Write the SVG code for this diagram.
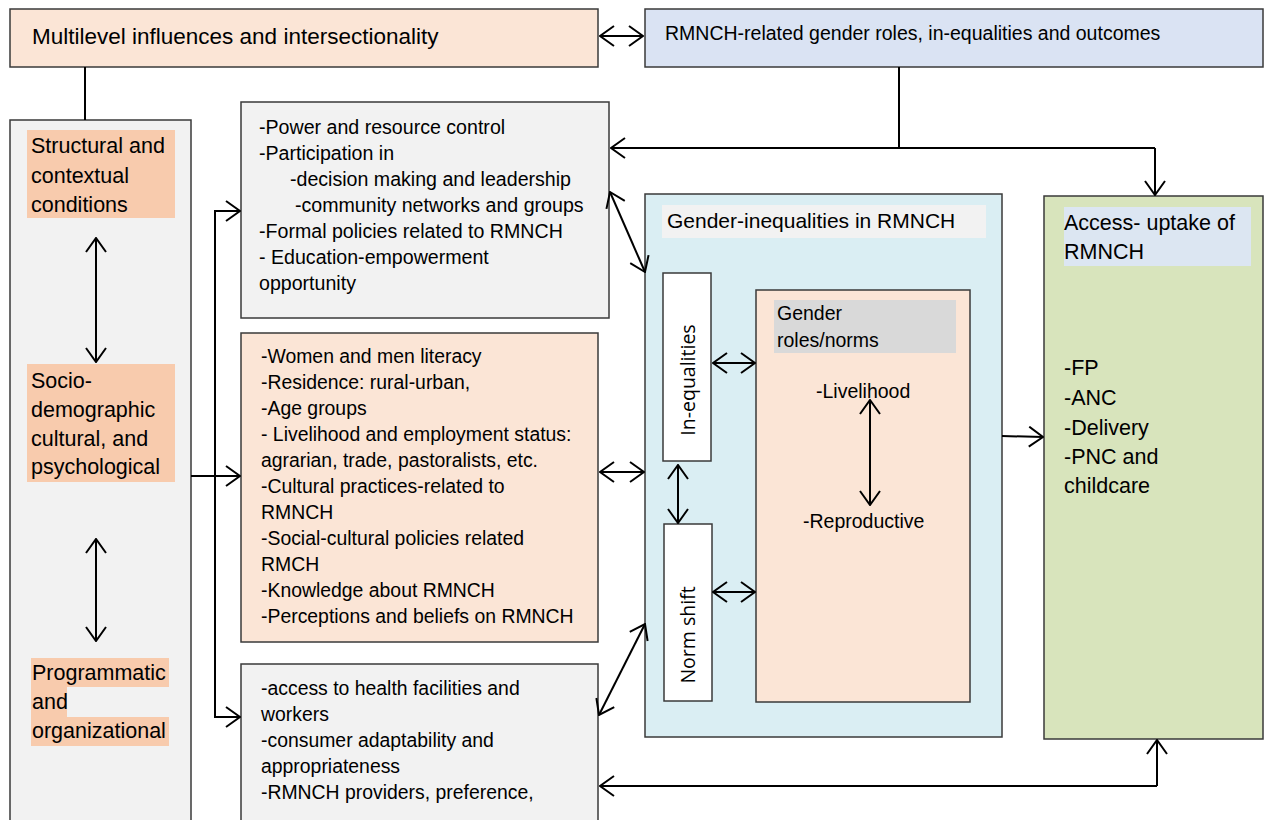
<svg xmlns="http://www.w3.org/2000/svg" width="1265" height="820" viewBox="0 0 1265 820">
<defs>
<marker id="ah" viewBox="0 0 16 22" refX="15" refY="11" markerWidth="16" markerHeight="22" markerUnits="userSpaceOnUse" orient="auto-start-reverse">
<path d="M1,1 L15,11 L1,21" fill="none" stroke="#000" stroke-width="2"/>
</marker>
</defs>
<style>
.box{stroke:#3a3a3a;stroke-width:1.5}
.t{font-family:"Liberation Sans",Arial,sans-serif;fill:#000}
.v{font-family:"Open Sans","DejaVu Sans",sans-serif;fill:#000;font-size:19.5px}
.c{fill:none;stroke:#000;stroke-width:2}
.a{marker-end:url(#ah)}
.d{marker-start:url(#ah);marker-end:url(#ah)}
</style>
<rect width="1265" height="820" fill="#fff"/>

<g id="multilevel">
<rect class="box" x="10" y="9" width="588" height="58" fill="#fbe5d6"/>
<text class="t" x="32" y="44" font-size="22.5">Multilevel influences and intersectionality</text>
</g>

<g id="rmnch-related">
<rect class="box" x="645" y="9" width="618" height="58" fill="#dae3f3"/>
<text class="t" x="665" y="40" font-size="19.5">RMNCH-related gender roles, in-equalities and outcomes</text>
</g>

<g id="levels">
<rect class="box" x="10" y="120" width="181" height="720" fill="#f2f2f2"/>
<rect x="27" y="130" width="148" height="88" fill="#f8cbad"/>
<text class="t" font-size="21.5"><tspan x="31" y="153">Structural and</tspan><tspan x="31" y="183">contextual</tspan><tspan x="31" y="212">conditions</tspan></text>
<rect x="27" y="364" width="148" height="118" fill="#f8cbad"/>
<text class="t" font-size="21.5"><tspan x="31" y="388">Socio-</tspan><tspan x="31" y="417">demographic</tspan><tspan x="31" y="446">cultural, and</tspan><tspan x="31" y="474">psychological</tspan></text>
<rect x="31" y="658" width="138" height="29" fill="#f8cbad"/>
<rect x="31" y="687" width="36" height="30" fill="#f8cbad"/>
<rect x="31" y="717" width="138" height="29" fill="#f8cbad"/>
<text class="t" font-size="21.5"><tspan x="32" y="680">Programmatic</tspan><tspan x="32" y="709">and</tspan><tspan x="32" y="738">organizational</tspan></text>
</g>

<g id="structural-factors">
<rect class="box" x="241" y="102" width="368" height="216" fill="#f2f2f2"/>
<text class="t" font-size="19.6"><tspan x="259" y="134">-Power and resource control</tspan><tspan x="259" y="160">-Participation in</tspan><tspan x="290" y="186">-decision making and leadership</tspan><tspan x="295" y="212">-community networks and groups</tspan><tspan x="259" y="238">-Formal policies related to RMNCH</tspan><tspan x="259" y="264">- Education-empowerment</tspan><tspan x="259" y="290">opportunity</tspan></text>
</g>

<g id="socio-factors">
<rect class="box" x="241" y="333" width="357" height="309" fill="#fbe5d6"/>
<text class="t" font-size="19.4"><tspan x="261" y="363">-Women and men literacy</tspan><tspan x="261" y="389">-Residence: rural-urban,</tspan><tspan x="261" y="415">-Age groups</tspan><tspan x="261" y="441">- Livelihood and employment status:</tspan><tspan x="261" y="467">agrarian, trade, pastoralists, etc.</tspan><tspan x="261" y="493">-Cultural practices-related to</tspan><tspan x="261" y="519">RMNCH</tspan><tspan x="261" y="545">-Social-cultural policies related</tspan><tspan x="261" y="571">RMCH</tspan><tspan x="261" y="597">-Knowledge about RMNCH</tspan><tspan x="261" y="623">-Perceptions and beliefs on RMNCH</tspan></text>
</g>

<g id="programmatic-factors">
<rect class="box" x="241" y="664" width="357" height="180" fill="#f2f2f2"/>
<text class="t" font-size="19.4"><tspan x="261" y="695">-access to health facilities and</tspan><tspan x="261" y="721">workers</tspan><tspan x="261" y="747">-consumer adaptability and</tspan><tspan x="261" y="773">appropriateness</tspan><tspan x="261" y="799">-RMNCH providers, preference,</tspan></text>
</g>

<g id="gender-inequalities">
<rect class="box" x="645" y="194" width="357" height="543" fill="#daeef3"/>
<rect x="662" y="205" width="324" height="33" fill="#f2f2f2"/>
<text class="t" x="667" y="228" font-size="21">Gender-inequalities in RMNCH</text>
</g>

<g id="in-equalities">
<rect class="box" x="663" y="273" width="48" height="188" fill="#fff"/>
<text class="v" transform="translate(695,380) rotate(-90)" text-anchor="middle">In-equalities</text>
</g>

<g id="norm-shift">
<rect class="box" x="664" y="524" width="48" height="177" fill="#fff"/>
<text class="v" transform="translate(695,635) rotate(-90)" text-anchor="middle">Norm shift</text>
</g>

<g id="gender-roles">
<rect class="box" x="756" y="290" width="214" height="412" fill="#fbe5d6"/>
<rect x="774" y="300" width="182" height="53" fill="#d9d9d9"/>
<text class="t" font-size="19.5"><tspan x="777" y="320">Gender</tspan><tspan x="777" y="347">roles/norms</tspan></text>
<text class="t" x="816" y="398" font-size="19.5">-Livelihood</text>
<text class="t" x="803" y="528" font-size="19.5">-Reproductive</text>
</g>

<g id="access-uptake">
<rect class="box" x="1044" y="196" width="219" height="543" fill="#d8e4bc"/>
<rect x="1064" y="207" width="187" height="59" fill="#dce6f2"/>
<text class="t" font-size="21.5"><tspan x="1064" y="230">Access- uptake of</tspan><tspan x="1064" y="259">RMNCH</tspan></text>
<text class="t" font-size="21.5"><tspan x="1064" y="375">-FP</tspan><tspan x="1064" y="405">-ANC</tspan><tspan x="1064" y="435">-Delivery</tspan><tspan x="1064" y="464">-PNC and</tspan><tspan x="1064" y="493">childcare</tspan></text>
</g>

<g id="connectors">
<line class="c d" x1="600" y1="36" x2="643" y2="36"/>
<line class="c" x1="85" y1="67" x2="85" y2="120"/>
<polyline class="c" points="899,67 899,148"/>
<polyline class="c a" points="1155,148 611,148"/>
<polyline class="c a" points="1155,148 1155,195"/>
<line class="c d" x1="96" y1="238" x2="96" y2="362"/>
<line class="c d" x1="96" y1="539" x2="96" y2="641"/>
<line class="c a" x1="191" y1="476" x2="240" y2="476"/>
<polyline class="c a" points="215,476 215,211 240,211"/>
<polyline class="c a" points="215,476 215,717 240,717"/>
<line class="c d" x1="610" y1="192" x2="645" y2="272"/>
<line class="c d" x1="600" y1="472" x2="644" y2="472"/>
<line class="c d" x1="645" y1="624" x2="599" y2="715"/>
<line class="c a" x1="1002" y1="436" x2="1043" y2="437"/>
<line class="c d" x1="713" y1="363" x2="755" y2="363"/>
<line class="c d" x1="678" y1="465" x2="678" y2="523"/>
<line class="c d" x1="713" y1="592" x2="755" y2="592"/>
<line class="c d" x1="870" y1="400" x2="870" y2="505"/>
<polyline class="c a" points="1157,786 600,786"/>
<polyline class="c a" points="1157,786 1157,740"/>
</g>
</svg>
